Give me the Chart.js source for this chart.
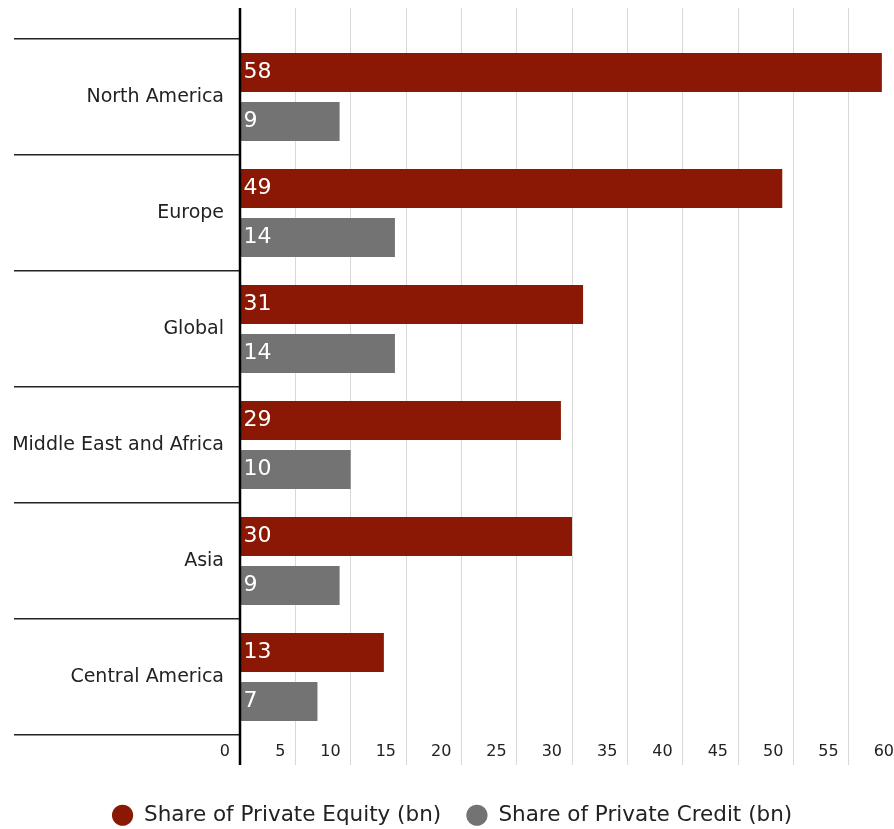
<!DOCTYPE html>
<html>
<head>
<meta charset="utf-8">
<script src="https://cdn.jsdelivr.net/npm/chart.js@4.4.1/dist/chart.umd.min.js"></script>
<style>
  html, body { margin: 0; padding: 0; overflow: hidden; background: #fff; }
</style>
</head>
<body>
<canvas id="regionChart" width="910" height="840"></canvas>
<script>
const regions = ['North America', 'Europe', 'Global', 'Middle East and Africa', 'Asia', 'Central America'];
const privateEquity = [58, 49, 31, 29, 30, 13];
const privateCredit = [9, 14, 14, 10, 9, 7];
const xMax = 60;
const xStep = 5;

Chart.defaults.font.family = "'DejaVu Sans', sans-serif";
Chart.defaults.color = '#222';

// same pixel snapping Chart.js uses for its own grid lines
function snap(px, width) {
  const half = width / 2;
  return Math.round(px - half) + half;
}

// zero line through the full height, plus grid stubs above the plot
const axisExtension = {
  id: 'axisExtension',
  beforeDatasetsDraw(chart) {
    const { ctx, chartArea, scales: { x } } = chart;
    ctx.save();
    ctx.strokeStyle = '#d9d9d9';
    ctx.lineWidth = 1;
    x.ticks.forEach(t => {
      const px = snap(x.getPixelForValue(t.value), 1);
      ctx.beginPath();
      ctx.moveTo(px, chartArea.top - 31);
      ctx.lineTo(px, chartArea.top + 1);
      ctx.stroke();
    });
    ctx.restore();
  },
  afterDatasetsDraw(chart) {
    const { ctx, chartArea, scales: { x } } = chart;
    const px = x.getPixelForValue(0);
    ctx.save();
    ctx.strokeStyle = '#000';
    ctx.lineWidth = 2.5;
    ctx.beginPath();
    ctx.moveTo(px, chartArea.top - 31);
    ctx.lineTo(px, chartArea.bottom + 30);
    ctx.stroke();
    ctx.restore();
  }
};

// white value text at the start of each bar
const barValueLabels = {
  id: 'barValueLabels',
  afterDatasetsDraw(chart) {
    const ctx = chart.ctx;
    ctx.save();
    ctx.fillStyle = '#fff';
    ctx.font = "22px 'DejaVu Sans', sans-serif";
    ctx.textAlign = 'left';
    ctx.textBaseline = 'middle';
    chart.data.datasets.forEach((ds, i) => {
      chart.getDatasetMeta(i).data.forEach((bar, j) => {
        ctx.fillText(ds.data[j], bar.base + 3, bar.y);
      });
    });
    ctx.restore();
  }
};

new Chart(document.getElementById('regionChart'), {
  type: 'bar',
  data: {
    labels: regions,
    datasets: [{
      label: 'Share of Private Equity (bn)',
      data: privateEquity,
      backgroundColor: '#8b1804',
      categoryPercentage: 0.845,
      barPercentage: 0.8
    }, {
      label: 'Share of Private Credit (bn)',
      data: privateCredit,
      backgroundColor: '#737373',
      categoryPercentage: 0.845,
      barPercentage: 0.8
    }]
  },
  plugins: [axisExtension, barValueLabels],
  options: {
    indexAxis: 'y',
    responsive: false,
    animation: false,
    layout: { padding: { top: 39, right: 6, left: 0, bottom: 4 } },
    plugins: {
      tooltip: { enabled: false },
      legend: {
        position: 'bottom',
        labels: {
          usePointStyle: true,
          pointStyle: 'circle',
          boxHeight: 15,
          padding: 25,
          color: '#222',
          font: { size: 21.5 }
        }
      }
    },
    scales: {
      x: {
        min: 0,
        max: xMax,
        grid: { color: '#d9d9d9', lineWidth: 1, tickLength: 30, tickColor: '#d9d9d9' },
        border: { display: false },
        ticks: { stepSize: xStep, align: 'end', labelOffset: -10, padding: -23, font: { size: 16 } },
        afterFit(scale) { scale.height = 44.5; }
      },
      y: {
        grid: { offset: true, drawOnChartArea: false, tickLength: 226, color: '#222', lineWidth: 1.5 },
        border: { display: false },
        ticks: { padding: -210, font: { size: 19 } },
        afterFit(scale) { scale.width = 240; }
      }
    }
  }
});
</script>
</body>
</html>
